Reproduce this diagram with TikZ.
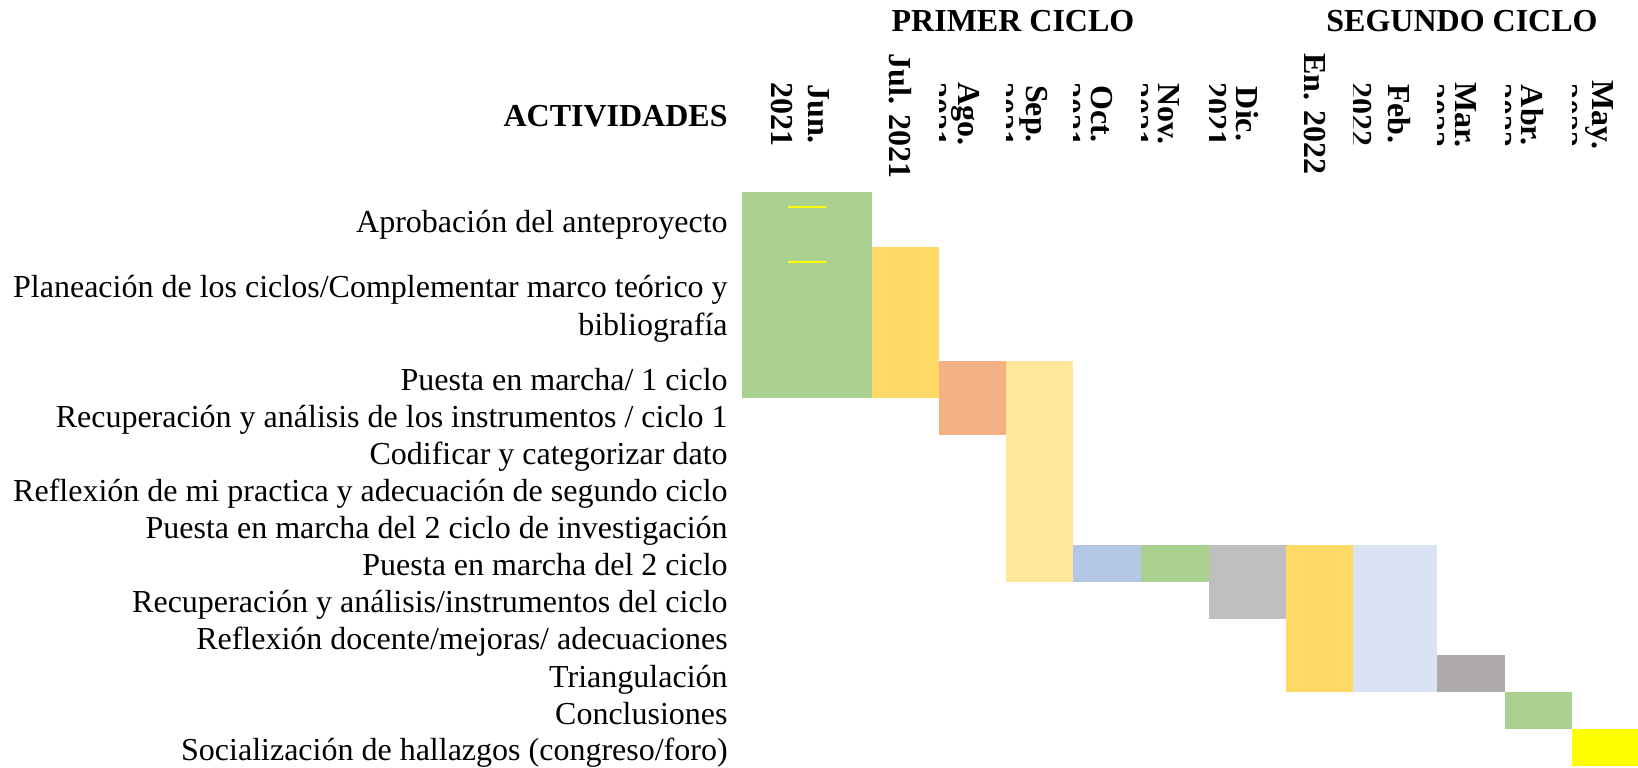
\documentclass[tikz,border=0pt]{standalone}
\usepackage{fontspec}
\setmainfont{Liberation Serif}
\definecolor{verde}{HTML}{A9D08E}
\definecolor{oro}{HTML}{FFD966}
\definecolor{salmon}{HTML}{F4B183}
\definecolor{crema}{HTML}{FFE699}
\definecolor{azul}{HTML}{B4C7E7}
\definecolor{gris}{HTML}{BFBFBF}
\definecolor{celeste}{HTML}{DAE3F3}
\definecolor{pardo}{HTML}{AEAAAA}
\definecolor{amarillo}{HTML}{FFFF00}
\begin{document}
\begin{tikzpicture}[x=0.5pt, y=-0.5pt]
\tikzstyle{act} = [anchor=base east, inner sep=0pt, align=right, font=\fontsize{16}{19}\selectfont]
\tikzstyle{tit} = [inner sep=0pt, font=\fontsize{16}{19}\selectfont\bfseries]
\tikzstyle{mes} = [rotate=-90, inner sep=0pt, font=\fontsize{16}{19}\selectfont\bfseries]

\useasboundingbox (0,0) rectangle (1638,767);

\fill[verde] (742,192) rectangle (872,398);
\fill[oro] (872,247) rectangle (939,398);
\fill[salmon] (939,361) rectangle (1006,435);
\fill[crema] (1006,361) rectangle (1073,582);
\fill[azul] (1073,545) rectangle (1141,582);
\fill[verde] (1141,545) rectangle (1209,582);
\fill[gris] (1209,545) rectangle (1286,619);
\fill[oro] (1286,545) rectangle (1353,692);
\fill[celeste] (1353,545) rectangle (1437,692);
\fill[pardo] (1437,655) rectangle (1505,692);
\fill[verde] (1505,692) rectangle (1572,729);
\fill[amarillo] (1572,729) rectangle (1638,766);
\draw[amarillo, line width=0.7pt] (788,207) -- (826,207);
\draw[amarillo, line width=0.7pt] (788,262) -- (826,262);

\node[tit] (primer) at (1013,21) {PRIMER CICLO};
\node[tit] (segundo) at (1462,21) {SEGUNDO CICLO};
\node[tit, anchor=east] (actividades) at (728,116) {ACTIVIDADES};

\begin{scope}
\clip (742,40) rectangle (872,190);
\node[mes] (jun) at (819,114) {Jun.};
\node[mes] (jun2) at (782,114) {2021};
\end{scope}
\begin{scope}
\clip (872,40) rectangle (939,190);
\node[mes] (jul) at (900,116) {Jul. 2021};
\end{scope}
\begin{scope}
\clip (939,40) rectangle (1006,190);
\node[mes] (ago) at (966,114) {Ago.};
\node[mes] (ago2) at (936,114) {2021};
\end{scope}
\begin{scope}
\clip (1006,40) rectangle (1073,190);
\node[mes] (sep) at (1034,114) {Sep.};
\node[mes] (sep2) at (1003,114) {2021};
\end{scope}
\begin{scope}
\clip (1073,40) rectangle (1141,190);
\node[mes] (oct) at (1102,114) {Oct.};
\node[mes] (oct2) at (1070,114) {2021};
\end{scope}
\begin{scope}
\clip (1141,40) rectangle (1209,190);
\node[mes] (nov) at (1169,114) {Nov.};
\node[mes] (nov2) at (1138,114) {2021};
\end{scope}
\begin{scope}
\clip (1209,40) rectangle (1286,190);
\node[mes] (dic) at (1247,114) {Dic.};
\node[mes] (dic2) at (1216,114) {2021};
\end{scope}
\begin{scope}
\clip (1286,40) rectangle (1353,190);
\node[mes] (ene) at (1315,114) {En. 2022};
\end{scope}
\begin{scope}
\clip (1353,40) rectangle (1437,190);
\node[mes] (feb) at (1399,114) {Feb.};
\node[mes] (feb2) at (1361,114) {2022};
\end{scope}
\begin{scope}
\clip (1437,40) rectangle (1505,190);
\node[mes] (mar) at (1466,115) {Mar.};
\node[mes] (mar2) at (1434,115) {2022};
\end{scope}
\begin{scope}
\clip (1505,40) rectangle (1572,190);
\node[mes] (abr) at (1532,115) {Abr.};
\node[mes] (abr2) at (1501,115) {2022};
\end{scope}
\begin{scope}
\clip (1572,40) rectangle (1638,190);
\node[mes] (may) at (1600,115) {May.};
\node[mes] (may2) at (1567,115) {2022};
\end{scope}

\node[act] (a1) at (728,232) {Aprobación del anteproyecto};
\node[act] (a2) at (728,335) {Planeación de los ciclos/Complementar marco teórico y\\bibliografía};
\node[act] (a3) at (728,390) {Puesta en marcha/ 1 ciclo};
\node[act] (a4) at (728,427) {Recuperación y análisis de los instrumentos / ciclo 1};
\node[act] (a5) at (728,464) {Codificar y categorizar dato};
\node[act] (a6) at (728,501) {Reflexión de mi practica y adecuación de segundo ciclo};
\node[act] (a7) at (728,538) {Puesta en marcha del 2 ciclo de investigación};
\node[act] (a8) at (728,575) {Puesta en marcha del 2 ciclo};
\node[act] (a9) at (728,612) {Recuperación y análisis/instrumentos del ciclo};
\node[act] (a10) at (728,649) {Reflexión docente/mejoras/ adecuaciones};
\node[act] (a11) at (728,687) {Triangulación};
\node[act] (a12) at (728,724) {Conclusiones};
\node[act] (a13) at (728,760) {Socialización de hallazgos (congreso/foro)};
\end{tikzpicture}
\end{document}
